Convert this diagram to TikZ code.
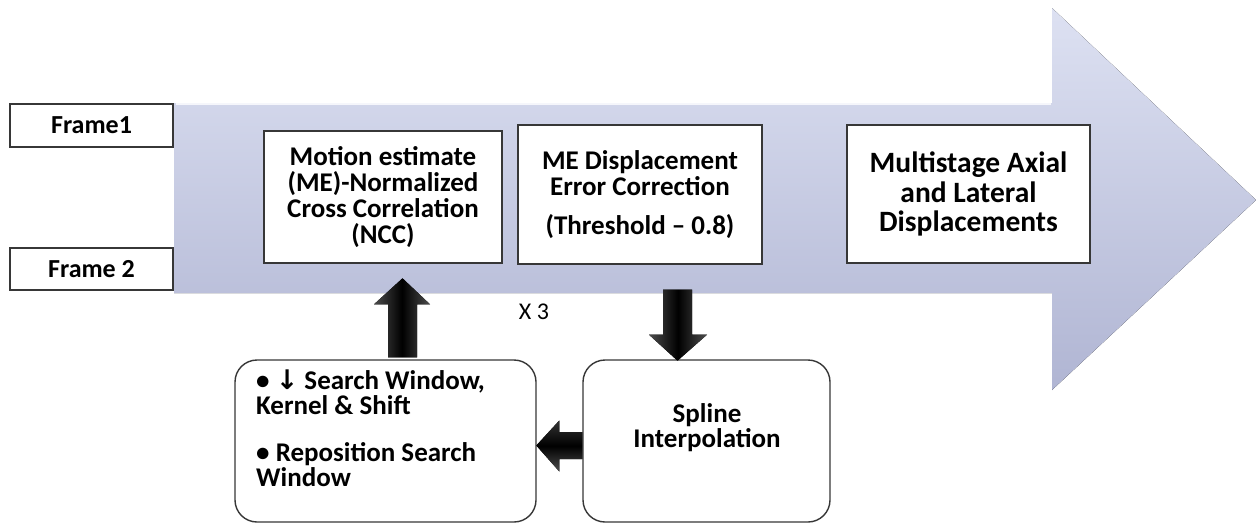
\documentclass[tikz,border=0pt]{standalone}
\usepackage{fontspec}
\setmainfont{Carlito}
\newfontfamily\symfont{DejaVu Sans}
\usetikzlibrary{calc}
\definecolor{bandtop}{RGB}{221,225,242}
\definecolor{bandbot}{RGB}{176,181,211}
\definecolor{edgegray}{RGB}{55,55,55}
\tikzset{
  stagebox/.style={draw=edgegray, line width=1.4pt, fill=white, inner sep=0pt,
    align=center, font=\bfseries\fontsize{27}{26}\selectfont},
  framebox/.style={draw=edgegray, line width=1.4pt, fill=white, inner sep=0pt,
    font=\bfseries\fontsize{26}{28}\selectfont},
  loopbox/.style={draw=edgegray, line width=1.4pt, fill=white, rounded corners=22pt, inner sep=0pt},
  looptext/.style={inner sep=0pt, font=\bfseries\fontsize{27}{25}\selectfont},
  vblock/.style={left color=black!70, right color=black!70, middle color=black, draw=none},
  hblock/.style={top color=black!80, bottom color=black!70, middle color=black, draw=none}
}
\begin{document}
\begin{tikzpicture}[x=1pt, y=-1pt]
\useasboundingbox (0,0) rectangle (1256,523);

% process band: wide arrow pointing right
\fill[top color=bandtop, bottom color=bandbot]
  (174,103) -- (1052,103) -- (1052,8) -- (1256,200) -- (1052,390)
  -- (1052,293) -- (174,293) -- cycle;
\draw[white!70!bandtop, line width=1.2pt] (176,104) -- (1051,104);

% input frames
\node[framebox, minimum width=163pt, minimum height=43pt] (f1) at (91.5,125.5) {Frame1};
\node[framebox, minimum width=163pt, minimum height=42pt] (f2) at (91.5,269) {Frame 2};

% stages on the band
\node[stagebox, minimum width=238pt, minimum height=132pt] (ncc) at (383,197)
  {Motion estimate\\(ME)-Normalized\\Cross Correlation\\(NCC)};
\node[stagebox, minimum width=244pt, minimum height=139pt] (err) at (640,194.5)
  {ME Displacement\\Error Correction\\[13pt](Threshold – 0.8)};
\node[stagebox, minimum width=243pt, minimum height=138pt,
  font=\bfseries\fontsize{29.5}{29.5}\selectfont] (out) at (968.5,194)
  {Multistage Axial\\and Lateral\\Displacements};

% refinement loop
\node[loopbox, minimum width=301pt, minimum height=162pt] (win) at (385.5,441) {};
\node[looptext, anchor=north west, align=left] (wintext) at (256,370)
  {• {\symfont ↓} Search Window,\\Kernel \& Shift\\[22pt]• Reposition Search\\Window};
\node[loopbox, minimum width=247pt, minimum height=162pt] (spl) at (706.5,441) {};
\node[looptext, align=center] (spltext) at (707,428) {Spline\\Interpolation};

\node[font=\fontsize{24}{26}\selectfont, inner sep=0pt] (rep) at (534,312) {X 3};

% block arrows of the loop
\coordinate (upfoot) at ($(win.north)+(17,-2)$);
\coordinate (downtop) at ($(err.south)+(37.5,25)$);
\coordinate (leftfoot) at ($(spl.west)+(0,4.5)$);

\fill[vblock, shift={(upfoot)}]
  (-14.5,0) -- (-14.5,-53) -- (-28.5,-53) -- (0,-79) -- (27.5,-53)
  -- (14.5,-53) -- (14.5,0) -- cycle;
\fill[vblock, shift={(downtop)}]
  (-14.5,0) -- (14.5,0) -- (14.5,45) -- (29.5,45) -- (0,71)
  -- (-28.5,45) -- (-14.5,45) -- cycle;
\fill[hblock, shift={(leftfoot)}]
  (0,-13.5) -- (-23,-13.5) -- (-23,-25) -- (-46,0) -- (-23,26)
  -- (-23,13.5) -- (0,13.5) -- cycle;
\end{tikzpicture}
\end{document}
